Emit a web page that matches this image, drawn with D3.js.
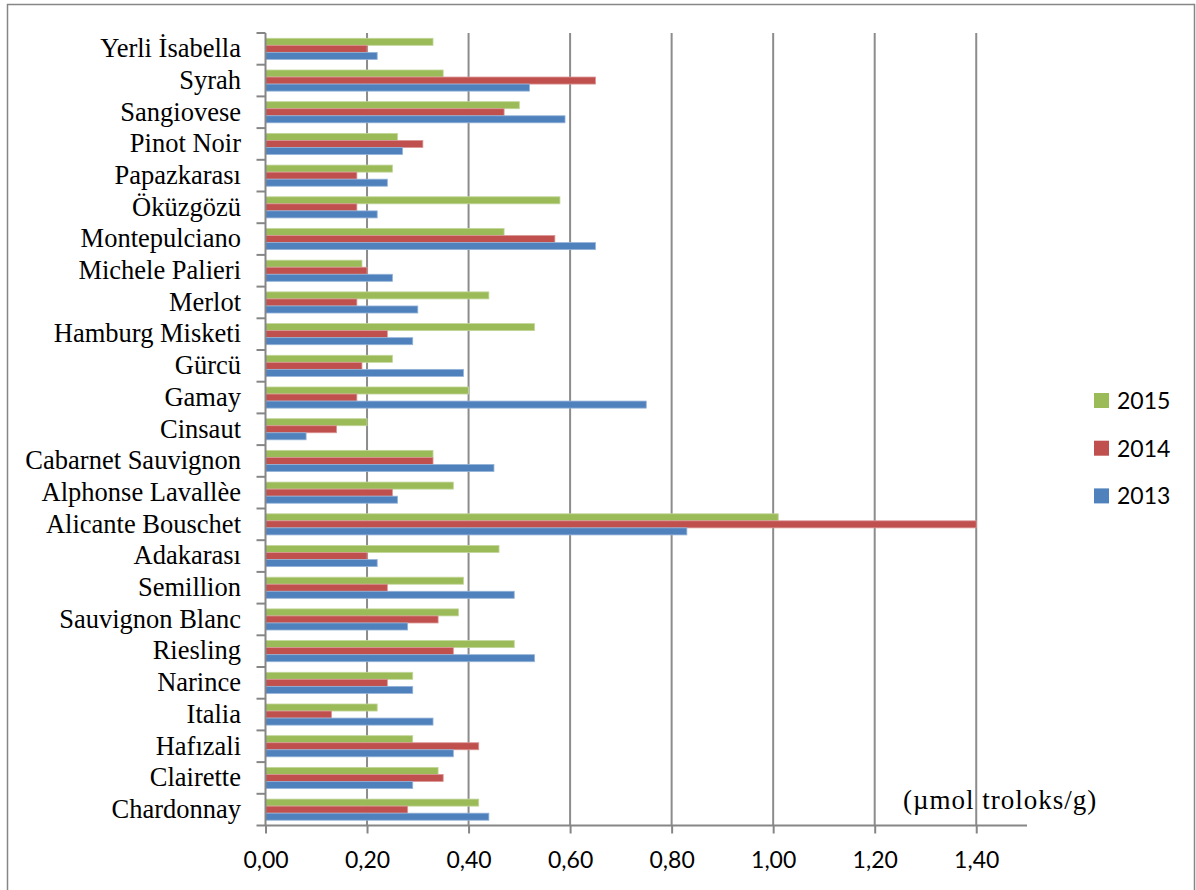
<!DOCTYPE html>
<html>
<head>
<meta charset="utf-8">
<script src="https://cdn.jsdelivr.net/npm/d3@7/dist/d3.min.js"></script>
<style>
  html, body { margin: 0; padding: 0; background: #fff; }
  svg { display: block; }
</style>
</head>
<body>
<svg id="chart" width="1196" height="890"></svg>
<script>
// Categories listed bottom-to-top as in the source sheet (Excel draws first at bottom)
const categories = [
  "Chardonnay", "Clairette", "Hafızali", "Italia", "Narince", "Riesling",
  "Sauvignon Blanc", "Semillion", "Adakarası", "Alicante Bouschet",
  "Alphonse Lavallèe", "Cabarnet Sauvignon", "Cinsaut", "Gamay", "Gürcü",
  "Hamburg Misketi", "Merlot", "Michele Palieri", "Montepulciano", "Öküzgözü",
  "Papazkarası", "Pinot Noir", "Sangiovese", "Syrah", "Yerli İsabella"
];
const values2013 = [0.44, 0.29, 0.37, 0.33, 0.29, 0.53, 0.28, 0.49, 0.22, 0.83,
  0.26, 0.45, 0.08, 0.75, 0.39, 0.29, 0.30, 0.25, 0.65, 0.22, 0.24, 0.27, 0.59, 0.52, 0.22];
const values2014 = [0.28, 0.35, 0.42, 0.13, 0.24, 0.37, 0.34, 0.24, 0.20, 1.40,
  0.25, 0.33, 0.14, 0.18, 0.19, 0.24, 0.18, 0.20, 0.57, 0.18, 0.18, 0.31, 0.47, 0.65, 0.20];
const values2015 = [0.42, 0.34, 0.29, 0.22, 0.29, 0.49, 0.38, 0.39, 0.46, 1.01,
  0.37, 0.33, 0.20, 0.40, 0.25, 0.53, 0.44, 0.19, 0.47, 0.58, 0.25, 0.26, 0.50, 0.35, 0.33];
const seriesNames = ["2015", "2014", "2013"];
const seriesColors = ["#9BBB59", "#C0504D", "#4F81BD"];
const seriesEdge = ["#c3d69b", "#d99694", "#95b3d7"];
const xTicks = [0, 0.2, 0.4, 0.6, 0.8, 1.0, 1.2, 1.4];
const unitLabel = "(µmol troloks/g)";

const seriesValues = { "2015": values2015, "2014": values2014, "2013": values2013 };

const svg = d3.select("#chart");
const W = 1196, H = 890;

svg.append("rect").attr("x", 0).attr("y", 0).attr("width", W).attr("height", H).attr("fill", "#fff");
// outer chart border
svg.append("rect").attr("x", 7.5).attr("y", 4.5).attr("width", 1187).attr("height", 890)
  .attr("fill", "none").attr("stroke", "#868686").attr("stroke-width", 1.5);

const plot = { left: 265.5, right: 1027, top: 33, bottom: 825.5 };

const x = d3.scaleLinear().domain([0, 1.5]).range([plot.left, plot.right]);
// top-to-bottom order is reverse of sheet order
const y = d3.scaleBand().domain(categories.slice().reverse()).range([plot.top, plot.bottom]).paddingInner(0).paddingOuter(0);
const y1 = d3.scaleBand().domain(seriesNames).range([0, y.bandwidth()]).paddingInner(0).paddingOuter(0.75);

const loc = d3.formatLocale({ decimal: ",", thousands: ".", grouping: [3], currency: ["", ""] });
const fmt = loc.format(".2f");

// unit label (under gridlines)
svg.append("text").attr("x", 903).attr("y", 809)
  .attr("font-family", "'Liberation Serif', 'Times New Roman', serif")
  .attr("font-size", 27).attr("letter-spacing", 1).attr("fill", "#000").text(unitLabel);

// gridlines
svg.append("g").selectAll("line").data(xTicks.filter(d => d > 0)).join("line")
  .attr("x1", d => x(d)).attr("x2", d => x(d))
  .attr("y1", plot.top).attr("y2", plot.bottom)
  .attr("stroke", "#8c8c8c").attr("stroke-width", 2);

// bars
const groups = svg.append("g").selectAll("g").data(categories).join("g")
  .attr("transform", d => `translate(0,${y(d)})`);
groups.selectAll("rect").data((d) => {
  const i = categories.indexOf(d);
  return seriesNames.map((s, k) => ({ s, k, v: seriesValues[s][i] }));
}).join("rect")
  .attr("x", x(0))
  .attr("y", d => y1(d.s))
  .attr("width", d => x(d.v) - x(0))
  .attr("height", y1.bandwidth())
  .attr("fill", d => seriesColors[d.k])
  .attr("stroke", d => seriesEdge[d.k])
  .attr("stroke-width", 0.8);

// x axis
const xAxis = d3.axisBottom(x).tickValues(xTicks).tickFormat(fmt).tickSize(8).tickSizeOuter(0);
const gx = svg.append("g").attr("transform", `translate(0,${plot.bottom})`).call(xAxis);
gx.select(".domain").remove();
gx.append("line").attr("x1", plot.left - 9).attr("x2", plot.right).attr("y1", 0).attr("y2", 0)
  .attr("stroke", "#868686").attr("stroke-width", 2);
gx.selectAll(".tick line").attr("stroke", "#868686").attr("stroke-width", 2);
gx.selectAll(".tick text").attr("font-family", "Lato, 'Liberation Sans', sans-serif")
  .attr("font-size", 23).attr("fill", "#000").attr("dy", null).attr("y", 42);

// y axis
const gy = svg.append("g");
gy.append("line").attr("x1", plot.left).attr("x2", plot.left).attr("y1", plot.top).attr("y2", plot.bottom)
  .attr("stroke", "#868686").attr("stroke-width", 2);
const boundaries = categories.slice().reverse().map(c => y(c));
gy.selectAll("line.tk").data(boundaries).join("line").attr("class", "tk")
  .attr("x1", plot.left - 9).attr("x2", plot.left).attr("y1", d => d).attr("y2", d => d)
  .attr("stroke", "#868686").attr("stroke-width", 2);
gy.selectAll("text").data(categories).join("text")
  .attr("x", 241).attr("y", d => y(d) + y.bandwidth() / 2 - 1)
  .attr("dy", "0.35em").attr("text-anchor", "end")
  .attr("font-family", "'Liberation Serif', 'Times New Roman', serif")
  .attr("font-size", 26.5).attr("fill", "#000").text(d => d);

// legend
const legend = svg.append("g").selectAll("g").data(seriesNames).join("g")
  .attr("transform", (d, i) => `translate(1094,${393 + i * 47.7})`);
legend.append("rect").attr("width", 15).attr("height", 15).attr("fill", (d, i) => seriesColors[i]);
legend.append("text").attr("x", 23).attr("y", 16)
  .attr("font-family", "Lato, 'Liberation Sans', sans-serif").attr("font-size", 23)
  .attr("fill", "#000").text(d => d);
</script>
</body>
</html>
